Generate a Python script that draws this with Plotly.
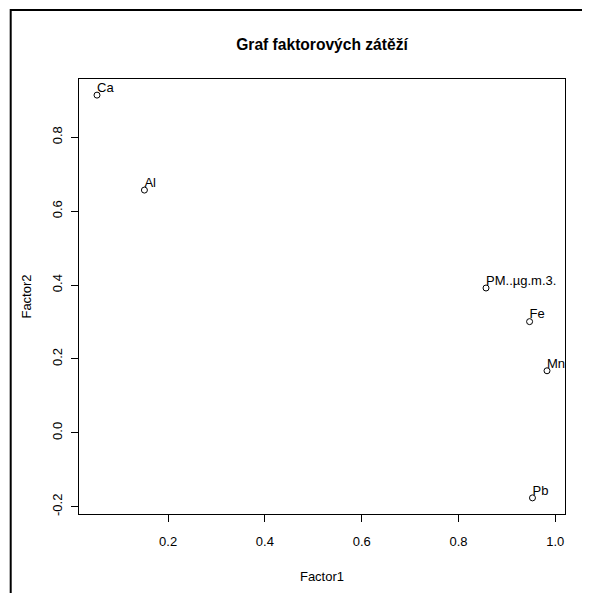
import plotly.graph_objects as go

labels = ["PM..µg.m.3.", "Al", "Ca", "Fe", "Mn", "Pb"]
factor1 = [0.857, 0.151, 0.053, 0.947, 0.983, 0.953]
factor2 = [0.392, 0.657, 0.914, 0.301, 0.168, -0.176]

FONT = "Liberation Sans, Arial, sans-serif"

# the page body has an 8px margin, so the figure is sized/offset to compensate
W, H = 582, 585
ML, MT, MR, MB = 71.3, 71, 24.7, 78.7
PW, PH = W - ML - MR, H - MT - MB

fig = go.Figure()
fig.add_trace(go.Scatter(
    x=factor1, y=factor2, mode="markers",
    marker=dict(symbol="circle-open", size=6, color="black", line=dict(width=1, color="black")),
    hoverinfo="skip", showlegend=False, cliponaxis=False,
))
fig.add_trace(go.Scatter(
    x=factor1, y=factor2, mode="text", text=labels,
    textposition="top right", textfont=dict(family=FONT, size=13, color="black"),
    hoverinfo="skip", showlegend=False, cliponaxis=True,
))

fig.update_layout(
    width=W, height=H,
    margin=dict(l=ML, r=MR, t=MT, b=MB, pad=0),
    paper_bgcolor="white", plot_bgcolor="white",
    font=dict(family=FONT, size=13, color="black"),
    title=dict(text="<b>Graf faktorových zátěží</b>", x=314 / W, xanchor="center",
               y=1 - 37 / H, yanchor="middle", font=dict(size=15.6, family=FONT)),
    showlegend=False,
)
fig.update_xaxes(
    range=[0.0158, 1.0202], tickvals=[0.2, 0.4, 0.6, 0.8, 1.0],
    ticktext=["0.2", "0.4", "0.6", "0.8", "1.0"],
    showgrid=False, zeroline=False, showline=True, linecolor="black", linewidth=1,
    mirror=True, ticks="outside", ticklen=7, tickcolor="black", tickwidth=1,
    ticklabelstandoff=8,
    tickfont=dict(size=13), title=dict(text="Factor1", font=dict(size=13), standoff=24),
)
fig.update_yaxes(
    range=[-0.2196, 0.9576], tickvals=[-0.2, 0.0, 0.2, 0.4, 0.6, 0.8],
    ticktext=["-0.2", "0.0", "0.2", "0.4", "0.6", "0.8"], tickangle=-90,
    showgrid=False, zeroline=False, showline=True, linecolor="black", linewidth=1,
    mirror=True, ticks="outside", ticklen=7, tickcolor="black", tickwidth=1,
    ticklabelstandoff=4,
    tickfont=dict(size=13), title=dict(text="Factor2", font=dict(size=13), standoff=15),
)

# outer device border (as in the reference image)
fig.add_shape(type="rect", xref="paper", yref="paper",
              x0=(3 - ML) / PW, x1=(W + 20 - ML) / PW,
              y0=-(MB + 20) / PH, y1=(PH + MT - 2) / PH,
              line=dict(color="black", width=2), fillcolor="rgba(0,0,0,0)", layer="below")

fig.write_html("out.html")
